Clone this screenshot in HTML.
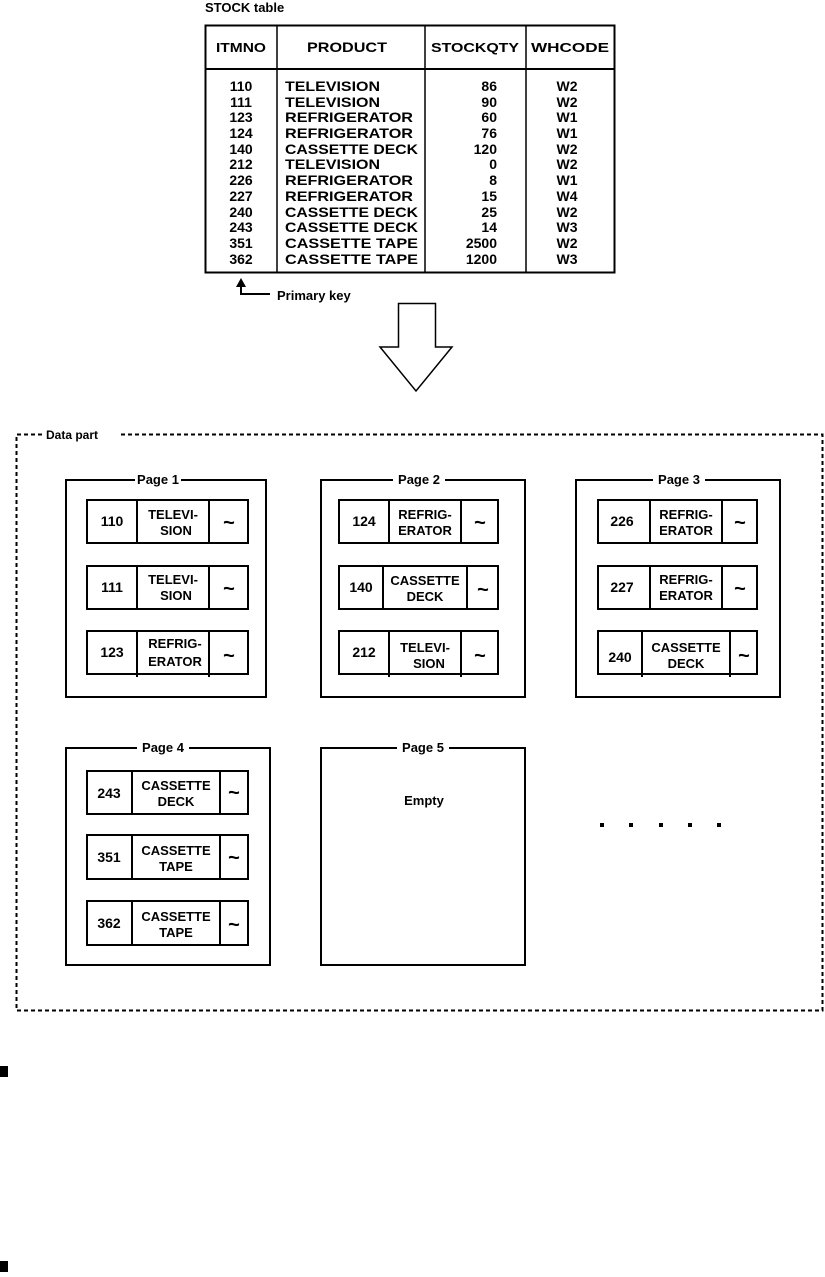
<!DOCTYPE html>
<html><head><meta charset="utf-8"><style>
html,body{margin:0;padding:0;background:#fff}
svg{display:block}
text{font-family:"Liberation Sans",sans-serif;font-weight:bold;fill:#000}
</style></head><body>
<svg width="825" height="1277" viewBox="0 0 825 1277" xmlns="http://www.w3.org/2000/svg">
<text x="205" y="12" font-size="13">STOCK table</text>
<rect x="205.5" y="25.5" width="409" height="247" fill="none" stroke="#000" stroke-width="2"/>
<line x1="205" y1="69" x2="614" y2="69" stroke="#000" stroke-width="2"/>
<line x1="277" y1="25" x2="277" y2="273" stroke="#000" stroke-width="1.5"/>
<line x1="425" y1="25" x2="425" y2="273" stroke="#000" stroke-width="1.5"/>
<line x1="526" y1="25" x2="526" y2="273" stroke="#000" stroke-width="1.5"/>
<g font-size="13">
<text x="241" y="52" text-anchor="middle" textLength="50" lengthAdjust="spacingAndGlyphs">ITMNO</text>
<text x="347" y="52" text-anchor="middle" font-weight="normal" font-size="14" textLength="80" lengthAdjust="spacingAndGlyphs">PRODUCT</text>
<text x="475" y="52" text-anchor="middle" textLength="88" lengthAdjust="spacingAndGlyphs">STOCKQTY</text>
<text x="570" y="52" text-anchor="middle" textLength="78" lengthAdjust="spacingAndGlyphs">WHCODE</text>
</g>
<g font-size="14">
<g text-anchor="middle">
<text x="241" y="91">110</text><text x="241" y="107">111</text><text x="241" y="122">123</text><text x="241" y="138">124</text><text x="241" y="154">140</text><text x="241" y="169">212</text><text x="241" y="185">226</text><text x="241" y="201">227</text><text x="241" y="217">240</text><text x="241" y="232">243</text><text x="241" y="248">351</text><text x="241" y="264">362</text>
<text x="567" y="91">W2</text><text x="567" y="107">W2</text><text x="567" y="122">W1</text><text x="567" y="138">W1</text><text x="567" y="154">W2</text><text x="567" y="169">W2</text><text x="567" y="185">W1</text><text x="567" y="201">W4</text><text x="567" y="217">W2</text><text x="567" y="232">W3</text><text x="567" y="248">W2</text><text x="567" y="264">W3</text>
</g>
<g text-anchor="end">
<text x="497" y="91">86</text><text x="497" y="107">90</text><text x="497" y="122">60</text><text x="497" y="138">76</text><text x="497" y="154">120</text><text x="497" y="169">0</text><text x="497" y="185">8</text><text x="497" y="201">15</text><text x="497" y="217">25</text><text x="497" y="232">14</text><text x="497" y="248">2500</text><text x="497" y="264">1200</text>
</g>
<g>
<text x="285" y="91" textLength="95" lengthAdjust="spacingAndGlyphs">TELEVISION</text>
<text x="285" y="107" textLength="95" lengthAdjust="spacingAndGlyphs">TELEVISION</text>
<text x="285" y="122" textLength="128" lengthAdjust="spacingAndGlyphs">REFRIGERATOR</text>
<text x="285" y="138" textLength="128" lengthAdjust="spacingAndGlyphs">REFRIGERATOR</text>
<text x="285" y="154" textLength="133" lengthAdjust="spacingAndGlyphs">CASSETTE DECK</text>
<text x="285" y="169" textLength="95" lengthAdjust="spacingAndGlyphs">TELEVISION</text>
<text x="285" y="185" textLength="128" lengthAdjust="spacingAndGlyphs">REFRIGERATOR</text>
<text x="285" y="201" textLength="128" lengthAdjust="spacingAndGlyphs">REFRIGERATOR</text>
<text x="285" y="217" textLength="133" lengthAdjust="spacingAndGlyphs">CASSETTE DECK</text>
<text x="285" y="232" textLength="133" lengthAdjust="spacingAndGlyphs">CASSETTE DECK</text>
<text x="285" y="248" textLength="133" lengthAdjust="spacingAndGlyphs">CASSETTE TAPE</text>
<text x="285" y="264" textLength="133" lengthAdjust="spacingAndGlyphs">CASSETTE TAPE</text>
</g>
</g>
<polyline points="241,284 241,294 270,294" fill="none" stroke="#000" stroke-width="2"/>
<polygon points="241,278 236,287 246,287" fill="#000"/>
<text x="277" y="300" font-size="13">Primary key</text>
<polygon points="398.5,303.5 435.5,303.5 435.5,347 452,347 416,391 380,347 398.5,347" fill="none" stroke="#000" stroke-width="1.5"/>
<path d="M42,434.5 H16.5 V1010.5 H822.5 V434.5 H118" fill="none" stroke="#000" stroke-width="2" stroke-dasharray="4,3"/>
<text x="46" y="439" font-size="12">Data part</text>
<g fill="none" stroke="#000" stroke-width="2">
<rect x="66" y="480" width="200" height="217"/>
<rect x="321" y="480" width="204" height="217"/>
<rect x="576" y="480" width="204" height="217"/>
<rect x="66" y="748" width="204" height="217"/>
<rect x="321" y="748" width="204" height="217"/>
</g>
<g font-size="13" text-anchor="middle">
<rect x="135" y="472" width="46" height="14" fill="#fff"/><text x="158" y="484">Page 1</text>
<rect x="393" y="472" width="52" height="14" fill="#fff"/><text x="419" y="484">Page 2</text>
<rect x="653" y="472" width="52" height="14" fill="#fff"/><text x="679" y="484">Page 3</text>
<rect x="137" y="740" width="52" height="14" fill="#fff"/><text x="163" y="752">Page 4</text>
<rect x="397" y="740" width="52" height="14" fill="#fff"/><text x="423" y="752">Page 5</text>
<text x="424" y="805" font-size="13">Empty</text>
</g>
<g fill="none" stroke="#000" stroke-width="2">
<rect x="87" y="500" width="161" height="43"/><line x1="137" y1="500" x2="137" y2="543"/><line x1="209" y1="500" x2="209" y2="543"/>
<rect x="87" y="566" width="161" height="43"/><line x1="137" y1="566" x2="137" y2="609"/><line x1="209" y1="566" x2="209" y2="609"/>
<rect x="87" y="631" width="161" height="43"/><line x1="137" y1="631" x2="137" y2="677"/><line x1="209" y1="631" x2="209" y2="677"/>
<rect x="339" y="500" width="159" height="43"/><line x1="389" y1="500" x2="389" y2="543"/><line x1="461" y1="500" x2="461" y2="543"/>
<rect x="339" y="566" width="159" height="43"/><line x1="383" y1="566" x2="383" y2="609"/><line x1="467" y1="566" x2="467" y2="609"/>
<rect x="339" y="631" width="159" height="43"/><line x1="389" y1="631" x2="389" y2="677"/><line x1="461" y1="631" x2="461" y2="677"/>
<rect x="598" y="500" width="159" height="43"/><line x1="650" y1="500" x2="650" y2="543"/><line x1="722" y1="500" x2="722" y2="543"/>
<rect x="598" y="566" width="159" height="43"/><line x1="650" y1="566" x2="650" y2="609"/><line x1="722" y1="566" x2="722" y2="609"/>
<rect x="598" y="631" width="159" height="43"/><line x1="642" y1="631" x2="642" y2="677"/><line x1="730" y1="631" x2="730" y2="677"/>
<rect x="87" y="771" width="161" height="43"/><line x1="132" y1="771" x2="132" y2="814"/><line x1="220" y1="771" x2="220" y2="814"/>
<rect x="87" y="835" width="161" height="44"/><line x1="132" y1="835" x2="132" y2="879"/><line x1="220" y1="835" x2="220" y2="879"/>
<rect x="87" y="901" width="161" height="44"/><line x1="132" y1="901" x2="132" y2="945"/><line x1="220" y1="901" x2="220" y2="945"/>
</g>
<g font-size="13" text-anchor="middle">
<g font-weight="normal" font-size="14">
<text x="112" y="526">110</text><text x="112" y="592">111</text><text x="112" y="657">123</text>
<text x="364" y="526">124</text><text x="361" y="592">140</text><text x="364" y="657">212</text>
<text x="622" y="526">226</text><text x="622" y="592">227</text><text x="620" y="662">240</text>
<text x="109" y="798">243</text><text x="109" y="862">351</text><text x="109" y="928">362</text>
</g>
<text x="173" y="519">TELEVI-</text><text x="176" y="535">SION</text>
<text x="173" y="584">TELEVI-</text><text x="176" y="600">SION</text>
<text x="175" y="648">REFRIG-</text><text x="175" y="666">ERATOR</text>
<text x="425" y="519">REFRIG-</text><text x="425" y="535">ERATOR</text>
<text x="425" y="585">CASSETTE</text><text x="425" y="601">DECK</text>
<text x="425" y="652">TELEVI-</text><text x="429" y="668">SION</text>
<text x="686" y="519">REFRIG-</text><text x="686" y="535">ERATOR</text>
<text x="686" y="584">REFRIG-</text><text x="686" y="600">ERATOR</text>
<text x="686" y="652">CASSETTE</text><text x="686" y="668">DECK</text>
<text x="176" y="790">CASSETTE</text><text x="176" y="806">DECK</text>
<text x="176" y="855">CASSETTE</text><text x="176" y="871">TAPE</text>
<text x="176" y="921">CASSETTE</text><text x="176" y="937">TAPE</text>
<g font-size="20">
<text x="229" y="529">~</text><text x="229" y="595">~</text><text x="229" y="662">~</text>
<text x="480" y="529">~</text><text x="483" y="596">~</text><text x="480" y="662">~</text>
<text x="740" y="529">~</text><text x="740" y="595">~</text><text x="744" y="662">~</text>
<text x="234" y="799">~</text><text x="234" y="864">~</text><text x="234" y="931">~</text>
</g>
</g>
<g fill="#000">
<rect x="600" y="823" width="4" height="4"/><rect x="629" y="823" width="4" height="4"/><rect x="659" y="823" width="4" height="4"/><rect x="688" y="823" width="4" height="4"/><rect x="717" y="823" width="4" height="4"/>
</g>
<rect x="0" y="1066" width="8" height="11" fill="#000"/>
<rect x="0" y="1261" width="8" height="11" fill="#000"/>
</svg>
</body></html>
